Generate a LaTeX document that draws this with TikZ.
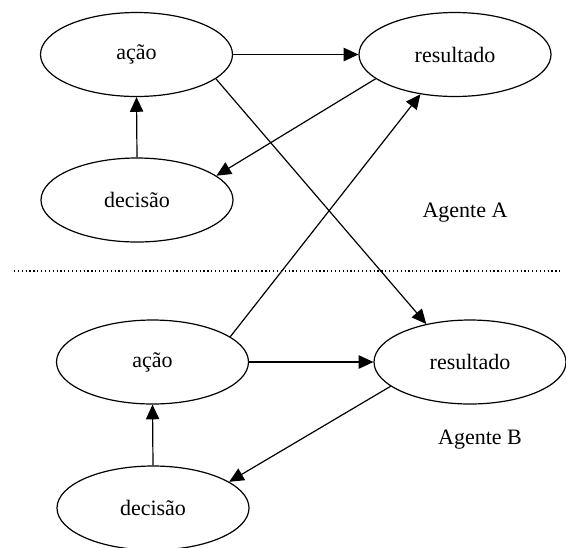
\documentclass[tikz,border=0pt]{standalone}
\usepackage{fontspec}
\setmainfont{Liberation Serif}
\usetikzlibrary{shapes.geometric,arrows.meta}

\tikzset{
  estado/.style={ellipse,draw,line width=0.9pt,minimum width=144pt,minimum height=63pt,inner sep=0pt},
  seta/.style={-{Triangle[length=11pt,width=10pt]},line width=0.9pt}
}

\begin{document}
\begin{tikzpicture}[x=0.75pt,y=-0.75pt,font=\fontsize{16.5}{20}\selectfont]
    \useasboundingbox (0,0) rectangle (566,547);

    \node[estado] (aA) at (136.5,54.5){ação};
    \node[estado] (rA) at (455,54.5){resultado};
    \node[estado] (dA) at (137,200){decisão};
    \node (agA) at (465,213){Agente A};

    \draw[dotted,line width=0.9pt] (14,271) -- (561,271);

    \node[estado] (aB) at (152.5,362){ação};
    \node[estado] (rB) at (470,362){resultado};
    \node[estado] (dB) at (153,508){decisão};
    \node (agB) at (480,440){Agente B};

    \draw[seta] (aA.east) -- (rA.west);
    \draw[seta] (rA.197) -- (dA.17);
    \draw[seta] (dA.north) -- (aA.south);
    \draw[seta] (aA.-17) -- (rB.139);

    \draw[seta] (aB.18) -- (rA.229);
    \draw[seta] (aB.east) -- (rB.west);
    \draw[seta] (rB.197) -- (dB.19);
    \draw[seta] (dB.north) -- (aB.south);
  \end{tikzpicture}
\end{document}
